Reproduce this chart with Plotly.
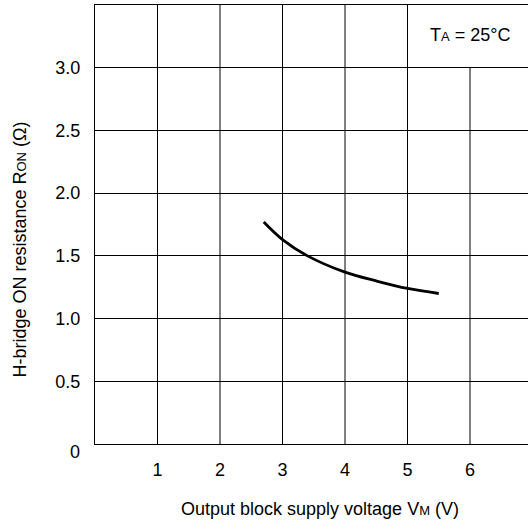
import plotly.graph_objects as go

# Data
vm = [2.7, 3.0, 3.4, 4.0, 4.5, 5.0, 5.5]
ron = [1.77, 1.63, 1.50, 1.37, 1.30, 1.24, 1.20]

x_ticks = [1, 2, 3, 4, 5, 6]
x_tick_text = ["1", "2", "3", "4", "5", "6"]
y_ticks = [0.5, 1.0, 1.5, 2.0, 2.5, 3.0]
y_tick_text = ["0.5", "1.0", "1.5", "2.0", "2.5", "3.0"]

FONT = "Liberation Sans, Arial, sans-serif"
FS = 18
SMALL = 13

fig = go.Figure()
fig.add_trace(go.Scatter(x=vm, y=ron, mode="lines",
                         line=dict(color="black", width=2.8, shape="spline", smoothing=1.0),
                         showlegend=False, hoverinfo="skip"))

# vertical grid lines (x=6 stops under the annotation box at 3.0)
for xv in x_ticks:
    fig.add_shape(type="line", x0=xv, x1=xv, y0=0, y1=(3.0 if xv == 6 else 3.5),
                  xref="x", yref="y", line=dict(color="black", width=1), layer="below")

fig.update_layout(
    width=528, height=529,
    margin=dict(l=95, r=0, t=5, b=85),
    paper_bgcolor="white", plot_bgcolor="white",
    font=dict(family=FONT, size=FS, color="black"),
    xaxis=dict(range=[0, 433 / 62.5], tickvals=x_ticks, ticktext=x_tick_text,
               showgrid=False, zeroline=False, showline=True, mirror=True,
               linecolor="black", linewidth=1,
               ticks="outside", ticklen=9, tickcolor="rgba(0,0,0,0)",
               tickfont=dict(family=FONT, size=FS, color="black")),
    yaxis=dict(range=[0, 3.5], tickvals=y_ticks, ticktext=y_tick_text,
               showgrid=True, gridcolor="black", gridwidth=1, zeroline=False,
               showline=True, linecolor="black", linewidth=1,
               ticks="outside", ticklen=10, tickcolor="rgba(0,0,0,0)",
               tickfont=dict(family=FONT, size=FS, color="black")),
)

fig.add_annotation(text="0", x=0, y=0, xref="paper", yref="y", xanchor="right",
                   yanchor="middle", xshift=-13, yshift=-8, showarrow=False,
                   font=dict(family=FONT, size=FS, color="black"))

fig.add_annotation(text=f'T<span style="font-size:{SMALL}px">A</span> = 25°C', x=6.0, y=3.26,
                   xref="x", yref="y", showarrow=False,
                   font=dict(family=FONT, size=FS, color="black"))

fig.add_annotation(text=f'Output block supply voltage V<span style="font-size:{SMALL}px">M</span> (V)',
                   x=3.6, y=0, xref="x", yref="paper", yanchor="middle", yshift=-65,
                   showarrow=False, font=dict(family=FONT, size=FS, color="black"))

fig.add_annotation(text=f'H-bridge ON resistance R<span style="font-size:{SMALL}px">ON</span> (Ω)',
                   x=0, y=1.55, xref="paper", yref="y", xanchor="center", yanchor="middle",
                   xshift=-75, textangle=-90,
                   showarrow=False, font=dict(family=FONT, size=FS, color="black"))

fig.write_html("out.html", config={"displayModeBar": False},
               post_script="document.body.style.margin='0';")
